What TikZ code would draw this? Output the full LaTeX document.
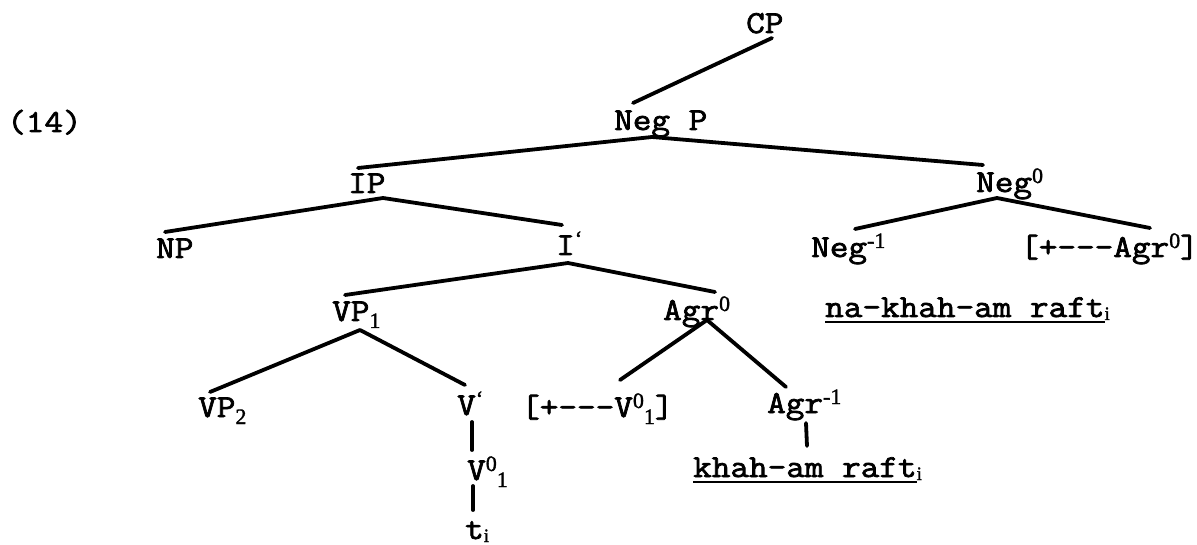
\documentclass[tikz,border=0pt]{standalone}
\usepackage{fontspec}
\setmainfont{Latin Modern Mono}[FakeBold=2.3, FakeStretch=1.13]
\newfontfamily\smallserif{Liberation Serif}[FakeBold=1.5]
\newcommand\supx[1]{\raisebox{9pt}{\smallserif\fontsize{22}{22}\selectfont #1}}
\newcommand\subx[1]{\raisebox{-7pt}{\smallserif\fontsize{22}{22}\selectfont #1}}
\newcommand\subi{\raisebox{-3pt}{\smallserif\fontsize{19}{19}\selectfont i}}
\newcommand\dsh{-{}-{}-}
\begin{document}
\begin{tikzpicture}[x=1pt,y=-1pt,
  tx/.style={inner sep=0pt, anchor=base west, font=\fontsize{32}{32}\selectfont},
  br/.style={line width=3.8pt, line cap=round},
  ul/.style={line width=1.8pt}]
\useasboundingbox (0,0) rectangle (1197,545);
% labels
\node[tx] (ex)   at (7,132)   {(14)};
\node[tx] (cp)   at (746,33)  {CP};
\node[tx] (negp) at (614,130) {Neg P};
\node[tx] (ip)   at (348,193) {IP};
\node[tx] (np)   at (156,258) {NP};
\node[tx] (ibar) at (556,255) {I\supx{\textquoteleft}};
\node[tx] (vp1)  at (332,321) {VP\subx{1}};
\node[tx] (agr0) at (663,320) {Agr\supx{0}};
\node[tx] (vp2)  at (198,417) {VP\subx{2}};
\node[tx] (vbar) at (457,415) {V\supx{\textquoteleft}};
\node[tx] (fv)   at (521,417) {[+\dsh V\supx{0}\subx{1}]};
\node[tx] (agrm) at (767,413) {Agr\supx{-1}};
\node[tx] (v01)  at (467,480) {V\supx{0}\subx{1}};
\node[tx] (ti)   at (465,539) {t\subi};
\node[tx] (kh)   at (693,477) {khah-am raft\rlap{\subi}};
\node[tx] (neg0) at (976,192) {Neg\supx{0}};
\node[tx] (negm) at (811,257) {Neg\supx{-1}};
\node[tx] (fa)   at (1020,257) {[+\dsh Agr\supx{0}]};
\node[tx] (nkh)  at (825,317) {na-khah-am raft\rlap{\subi}};
% connector end points
\coordinate (cp-b)   at (772,38);
\coordinate (negp-t) at (633,103);
\coordinate (negp-b) at (652,137);
\coordinate (ip-t)   at (358,168);
\coordinate (neg0-t) at (983,165);
\coordinate (ip-b)   at (383,198);
\coordinate (np-t)   at (165,232);
\coordinate (ibar-t) at (562,225);
\coordinate (ibar-b) at (568,263);
\coordinate (vp1-t)  at (345,295);
\coordinate (agr0-t) at (715,292);
\coordinate (vp1-b)  at (360,330);
\coordinate (vp2-t)  at (210,392);
\coordinate (vbar-t) at (465,385);
\coordinate (vbar-b) at (472,422);
\coordinate (v01-t)  at (472,450);
\coordinate (v01-b)  at (473,486);
\coordinate (ti-t)   at (473,510);
\coordinate (agr0-b) at (707,320);
\coordinate (fv-t)   at (620,380);
\coordinate (agrm-t) at (786,387);
\coordinate (agrm-b) at (806,423);
\coordinate (kh-t)   at (807,446);
\coordinate (neg0-b) at (997,198);
\coordinate (negm-t) at (855,229);
\coordinate (fa-t)   at (1150,228);
% branches
\draw[br] (cp-b) -- (negp-t);
\draw[br] (negp-b) -- (ip-t);
\draw[br] (negp-b) -- (neg0-t);
\draw[br] (ip-b) -- (np-t);
\draw[br] (ip-b) -- (ibar-t);
\draw[br] (ibar-b) -- (vp1-t);
\draw[br] (ibar-b) -- (agr0-t);
\draw[br] (vp1-b) -- (vp2-t);
\draw[br] (vp1-b) -- (vbar-t);
\draw[br] (vbar-b) -- (v01-t);
\draw[br] (v01-b) -- (ti-t);
\draw[br] (agr0-b) -- (fv-t);
\draw[br] (agr0-b) -- (agrm-t);
\draw[br] (agrm-b) -- (kh-t);
\draw[br] (neg0-b) -- (negm-t);
\draw[br] (neg0-b) -- (fa-t);
% underlines
\draw[ul] ([yshift=-5pt]kh.base west) -- ([yshift=-5pt]kh.base east);
\draw[ul] ([yshift=-5pt]nkh.base west) -- ([yshift=-5pt]nkh.base east);
\end{tikzpicture}
\end{document}
